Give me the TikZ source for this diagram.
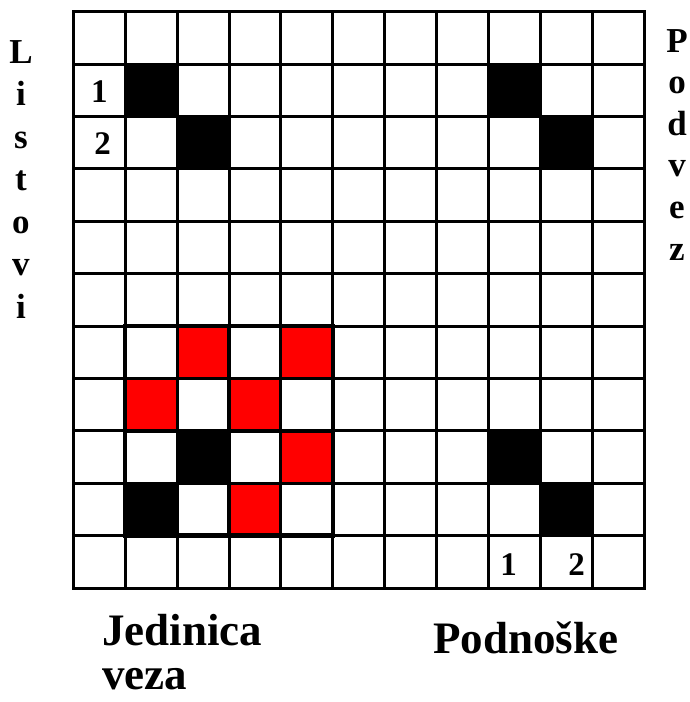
\documentclass[tikz,border=0pt]{standalone}
\usepackage{fontspec}
\setmainfont{Liberation Serif}
\newcommand{\blackcell}[2]{\fill[black] ({73.3+51.9*#2-1.5},{11.7+52.4*#1-1.5}) rectangle ++(54.9,55.4);}
\newcommand{\redcell}[2]{\fill[red] ({73.3+51.9*#2},{11.7+52.4*#1}) rectangle ++(51.9,52.4);}
\begin{document}
\begin{tikzpicture}[x=1pt,y=-1pt,
  gridline/.style={line width=3pt, line cap=rect},
  blockline/.style={line width=4.5pt, line cap=rect},
  lbl/.style={font=\bfseries\fontsize{45}{45}\selectfont, inner sep=0pt, anchor=base west},
  side/.style={font=\bfseries\fontsize{35}{35}\selectfont, inner sep=0pt, anchor=base},
  num/.style={font=\bfseries\fontsize{33}{33}\selectfont, inner sep=0pt, anchor=base}
]
\useasboundingbox (0,0) rectangle (690,702);
\fill[white] (0,0) rectangle (690,702);
% red cells
\redcell{6}{2}
\redcell{6}{4}
\redcell{7}{1}
\redcell{7}{3}
\redcell{8}{4}
\redcell{9}{3}
% grid
\foreach \i in {0,...,11} {
  \draw[gridline] ({73.3+51.9*\i},11.7) -- ({73.3+51.9*\i},588.1);
  \draw[gridline] (73.3,{11.7+52.4*\i}) -- (644.2,{11.7+52.4*\i});
}
% black cells
\blackcell{1}{1}
\blackcell{2}{2}
\blackcell{1}{8}
\blackcell{2}{9}
\blackcell{8}{2}
\blackcell{9}{1}
\blackcell{8}{8}
\blackcell{9}{9}
% thick block border
\draw[blockline] (125.2,326.1) rectangle (332.9,535.7);
\draw[line width=4pt] (229.05,326.1) -- (229.05,535.7);
\draw[line width=4pt] (125.2,430.9) -- (332.9,430.9);
% numbers
\node[num] (n1l) at (99.3,102) {1};
\node[num] (n2l) at (102.5,154) {2};
\node[num] (n1b) at (508.5,575) {1};
\node[num] (n2b) at (576.5,575) {2};
% side labels
\foreach \l [count=\i] in {L,i,s,t,o,v,i}
  \node[side] (left\i) at (21,{63+42.5*(\i-1)}) {\l};
\foreach \l [count=\i] in {P,o,d,v,e,z}
  \node[side] (right\i) at (677,{52+41.6*(\i-1)}) {\l};
% bottom labels
\node[lbl] (jed) at (102,645) {Jedinica};
\node[lbl] (veza) at (102,689) {veza};
\node[lbl] (podn) at (433,653) {Podnoške};
\end{tikzpicture}
\end{document}
